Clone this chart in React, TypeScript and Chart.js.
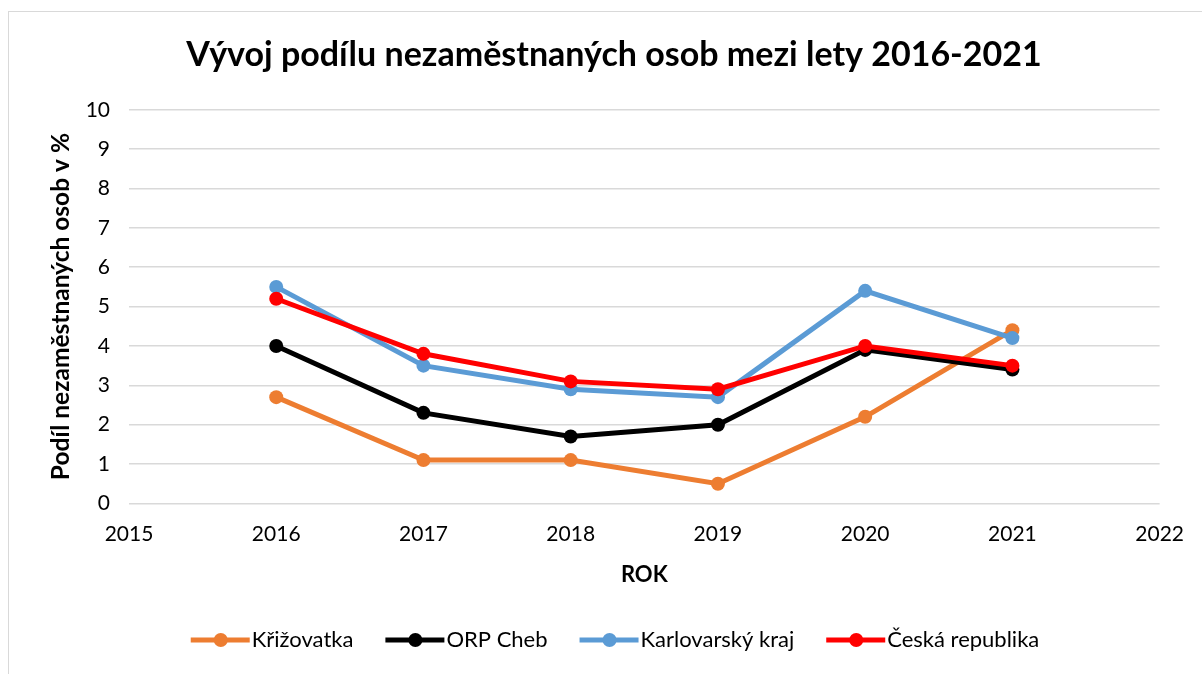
import React, { useEffect, useRef } from "react";
import { Chart, registerables } from "chart.js";

Chart.register(...registerables);

const years = [2016, 2017, 2018, 2019, 2020, 2021];
const krizovatka = [2.7, 1.1, 1.1, 0.5, 2.2, 4.4];
const orpCheb = [4.0, 2.3, 1.7, 2.0, 3.9, 3.4];
const karlovarsky = [5.5, 3.5, 2.9, 2.7, 5.4, 4.2];
const ceskaRepublika = [5.2, 3.8, 3.1, 2.9, 4.0, 3.5];

const seriesNames = ["Křižovatka", "ORP Cheb", "Karlovarský kraj", "Česká republika"];
const seriesColors = ["#ED7D31", "#000000", "#5B9BD5", "#FF0000"];
const seriesValues = [krizovatka, orpCheb, karlovarsky, ceskaRepublika];
const drawOrder = [4, 3, 2, 1];

const FONT = "Lato, 'Open Sans', 'DejaVu Sans', sans-serif";
const LEGEND_BOX = 50;

const layoutShift = {
  id: "layoutShift",
  afterLayout(chart: any) {
    const lg = chart.legend;
    if (lg) {
      lg.left += 13;
      lg.right += 13;
    }
    const tb = chart.titleBlock;
    if (tb) {
      tb.left += 12;
      tb.right += 12;
    }
  },
  afterDraw(chart: any) {
    const lg = chart.legend;
    if (!lg || !lg.legendHitBoxes) return;
    const ctx = chart.ctx;
    lg.legendHitBoxes.forEach((hb: any, i: number) => {
      const item = lg.legendItems[i];
      const color = seriesColors[item.datasetIndex];
      const cy = hb.top + hb.height / 2;
      ctx.save();
      ctx.strokeStyle = color;
      ctx.lineWidth = 5;
      ctx.beginPath();
      ctx.moveTo(hb.left, cy);
      ctx.lineTo(hb.left + 59, cy);
      ctx.stroke();
      ctx.fillStyle = color;
      ctx.beginPath();
      ctx.arc(hb.left + 30, cy, 7, 0, Math.PI * 2);
      ctx.fill();
      ctx.restore();
    });
  },
};

export default function App() {
  const ref = useRef<HTMLCanvasElement | null>(null);
  useEffect(() => {
    if (!ref.current) return;
    const chart = new Chart(ref.current, {
      type: "line",
      data: {
        datasets: seriesNames.map((name, i) => ({
          label: name,
          data: years.map((y, j) => ({ x: y, y: seriesValues[i][j] })),
          borderColor: seriesColors[i],
          backgroundColor: seriesColors[i],
          pointBackgroundColor: seriesColors[i],
          pointBorderColor: seriesColors[i],
          borderWidth: 5,
          pointRadius: 7,
          pointBorderWidth: 0,
          tension: 0,
          order: drawOrder[i],
        })),
      },
      plugins: [layoutShift],
      options: {
        animation: false,
        responsive: true,
        maintainAspectRatio: false,
        layout: { padding: { left: 33, right: 40, top: 0, bottom: 13 } },
        plugins: {
          tooltip: { enabled: false },
          title: {
            display: true,
            text: "Vývoj podílu nezaměstnaných osob mezi lety 2016-2021",
            color: "#000",
            font: { family: FONT, size: 34, weight: "bold" },
            padding: { top: 23, bottom: 34 },
          },
          legend: {
            position: "bottom",
            labels: {
              color: "#000",
              font: { family: FONT, size: 22 },
              boxWidth: LEGEND_BOX,
              boxHeight: 5,
              padding: 32,
              sort: (a: any, b: any) => a.datasetIndex - b.datasetIndex,
              generateLabels: (chart: any) =>
                Chart.defaults.plugins.legend.labels
                  .generateLabels(chart)
                  .map((l: any) => ({ ...l, fillStyle: "rgba(0,0,0,0)", strokeStyle: "rgba(0,0,0,0)", lineWidth: 0 })),
            },
          },
        },
        scales: {
          x: {
            type: "linear",
            min: 2015,
            max: 2022,
            offset: false,
            grid: { display: false, drawTicks: false },
            border: { display: false },
            ticks: {
              stepSize: 1,
              color: "#000",
              font: { family: FONT, size: 21 },
              padding: 18,
              maxRotation: 0,
              callback: (v: any) => String(v),
            },
            title: {
              display: true,
              text: "ROK",
              color: "#000",
              font: { family: FONT, size: 22, weight: "bold" },
              padding: { top: 15, bottom: 9 },
            },
            afterFit: (scale: any) => {
              scale.height = scale.height - 18;
            },
          },
          y: {
            min: 0,
            max: 10,
            grid: { color: "#d9d9d9", lineWidth: 1.5, drawTicks: false },
            border: { display: false },
            ticks: {
              stepSize: 1,
              color: "#000",
              font: { family: FONT, size: 21 },
              padding: 19,
            },
            title: {
              display: true,
              text: "Podíl nezaměstnaných osob v %",
              color: "#000",
              font: { family: FONT, size: 24.5, weight: "bold" },
              padding: { top: 4, bottom: 4 },
            },
            afterFit: (scale: any) => {
              scale.width = 87;
            },
          },
        },
      },
    });
    return () => chart.destroy();
  }, []);

  return (
    <div
      style={{
        position: "fixed",
        left: 8,
        top: 11,
        width: 1194,
        height: 663,
        borderTop: "1px solid #d9d9d9",
        borderLeft: "1px solid #d9d9d9",
        boxSizing: "border-box",
        background: "#fff",
      }}
    >
      <div style={{ position: "relative", width: 1193, height: 662 }}>
        <canvas ref={ref} />
      </div>
    </div>
  );
}
